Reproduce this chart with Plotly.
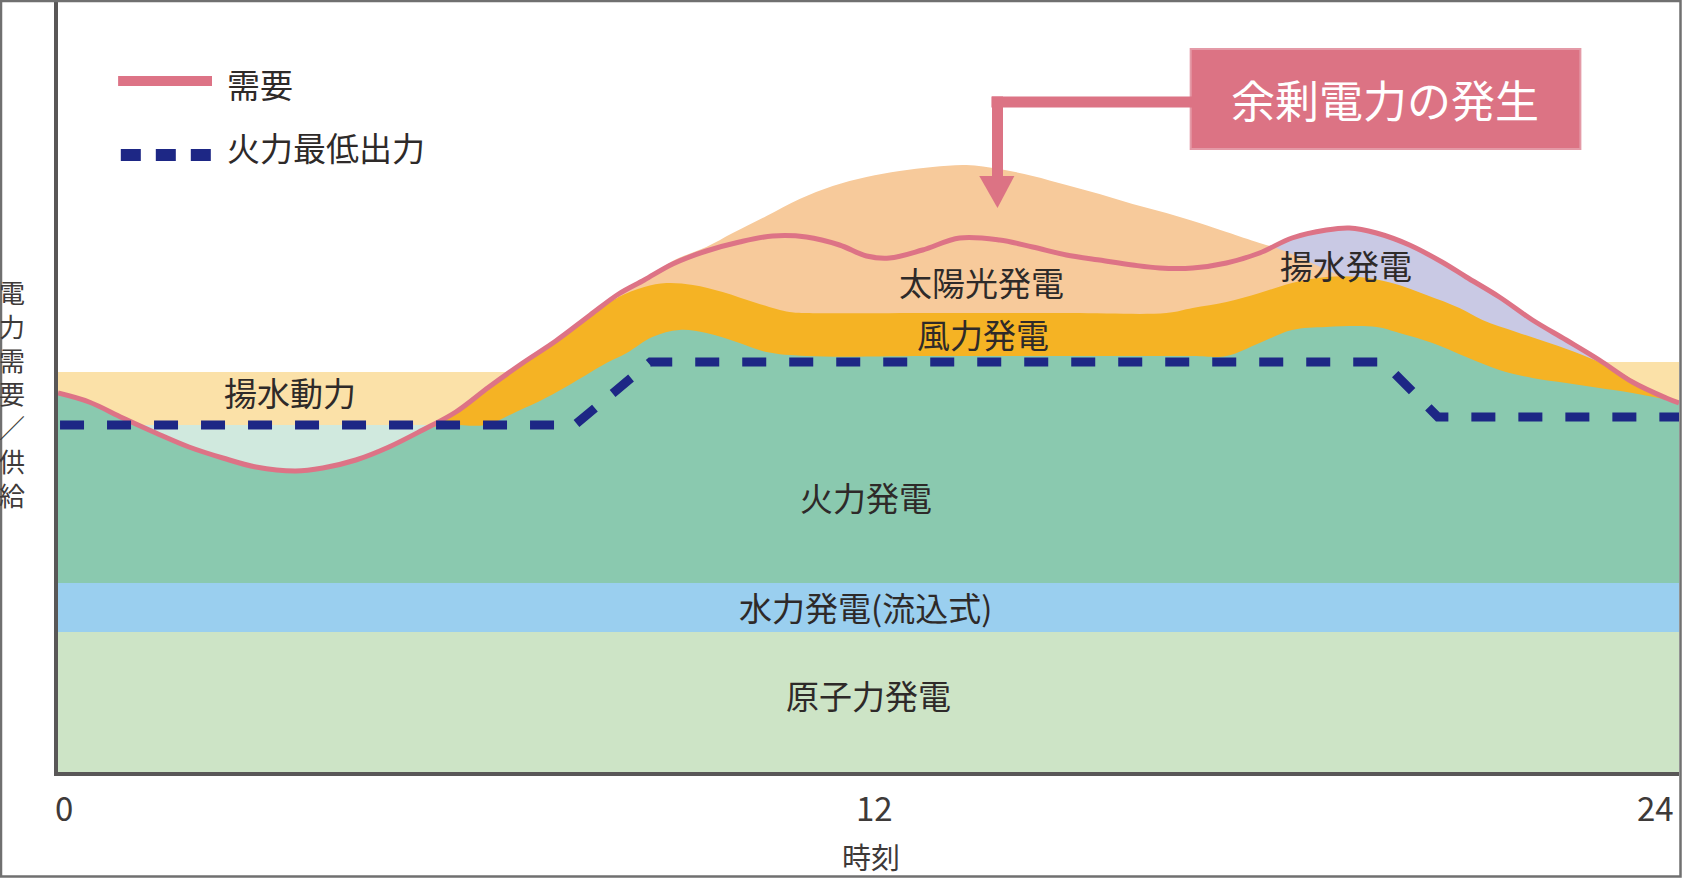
import plotly.graph_objects as go

# ---------------- data (x: hour of day, y: power, arbitrary units) ----------------
hours_demand = [0, 0.46, 0.96, 1.45, 1.94, 2.44, 2.93, 3.52, 3.92, 4.41, 4.90, 5.40, 5.89, 6.38,
                6.88, 7.37, 7.88, 8.30, 8.68, 9.10, 9.60, 10.09, 10.58, 11.08, 11.57, 11.97, 12.31,
                12.80, 13.35, 13.94, 14.43, 14.93, 15.42, 15.91, 16.31, 16.80, 17.30, 17.79, 18.27,
                18.78, 19.12, 19.52, 20.01, 20.49, 20.85, 21.34, 21.83, 22.33, 22.82, 23.31, 23.81, 24]
demand = [379, 370, 354, 339, 325, 314, 305, 301, 304, 312, 325, 342, 360, 385,
          409, 431, 457, 478, 492, 508, 521, 530, 536, 535, 527, 516, 514,
          522, 534, 532, 525, 517, 512, 507, 504, 504, 509, 519, 534,
          542, 544, 539, 527, 510, 495, 475, 452, 432, 412, 390, 374, 369]

hours_thermal = [0, 0.46, 0.96, 1.45, 1.94, 2.44, 2.93, 3.52, 3.92, 4.41, 4.90, 5.40, 5.75, 6.33,
                 6.78, 7.22, 7.62, 8.12, 8.42, 8.80, 9.20, 9.60, 10.09, 10.49, 11.08, 13.0, 15.0,
                 16.8, 17.30, 17.79, 18.27, 18.78, 19.52, 19.86, 20.35, 20.85, 21.34, 21.83, 22.33,
                 22.82, 23.31, 24]
thermal_top = [379, 370, 354, 339, 325, 314, 305, 301, 304, 312, 325, 342, 347, 347,
               360, 374, 389, 409, 419, 435, 442, 439, 429, 420, 416, 416, 416,
               416, 416, 429, 442, 445, 445, 439, 429, 415, 402, 394, 389,
               384, 379, 370]

hours_wind = [5.50, 5.89, 6.38, 6.88, 7.37, 7.88, 8.30, 8.68, 9.01, 9.40, 9.84, 10.34, 10.83, 11.08,
              13.0, 15.0, 16.41, 16.80, 17.30, 17.79, 18.27, 18.78, 19.27, 19.75, 20.26, 20.75,
              21.09, 21.59, 22.08, 22.57, 23.07, 23.56, 24]
wind_top = [345, 360, 385, 409, 431, 456, 475, 485, 489, 487, 480, 469, 460, 459,
            459, 459, 459, 464, 470, 479, 489, 495, 495, 489, 477, 464,
            452, 440, 429, 417, 402, 382, 369]

hours_solar = [8.30, 8.68, 9.10, 9.60, 9.99, 10.49, 10.98, 11.47, 11.97, 12.46, 12.95, 13.45, 13.94,
               14.43, 14.93, 15.42, 15.91, 16.41, 16.90, 17.30, 17.79, 18.08, 18.53, 19.04]
solar_top = [478, 492, 511, 525, 539, 556, 573, 586, 595, 601, 605, 607, 603,
             596, 587, 578, 568, 559, 549, 540, 529, 523, 510, 494]

hours_thermal_min = [0.03, 7.65, 8.77, 19.62, 20.43, 24]
thermal_min = [347, 347, 410, 410, 355, 355]

hydro_top = 189
nuclear_top = 140

pump_left_hours = [0, 6.68]
pump_left_level = 400
pump_right_hours = [22.80, 24]
pump_right_level = 410
surplus_hours = [1.0, 5.7]
pumped_gen_start = 17.79

area_labels = ["揚水動力", "太陽光発電", "風力発電", "揚水発電", "火力発電", "水力発電(流込式)", "原子力発電"]
label_hours = [3.43, 13.67, 13.69, 19.07, 11.97, 11.96, 12.0]
label_values = [380, 490, 438, 507, 275, 165, 77]

tick_values = [0, 12, 24]
tick_labels = ["0", "12", "24"]
x_title = "時刻"
y_title = "電力需要／供給"
legend_names = ["需要", "火力最低出力"]
callout_text = "余剰電力の発生"

# ---------------- styles ----------------
C_NUC = "#cde4c6"
C_HYD = "#9acfef"
C_THE = "#8ac9af"
C_MINT = "#d0e9de"
C_WIND = "#f5b324"
C_SOLAR = "#f7ca9b"
C_PUMP = "#fbe1a8"
C_LAV = "#c9c9e4"
C_DEM = "#dd7386"
C_NAVY = "#1d2785"
C_TXT = "#2e2a29"
FONT = "Noto Sans CJK JP"

L, R, T, B = 58, 3, 0, 106
FW, FH = 1682, 878
W = FW - L - R
H = FH - T - B


def px_x(px):
    return (px - L) / W


def px_y(py):
    return (FH - B - py) / H


fig = go.Figure()


def area(x, y, color, shape="spline"):
    fig.add_trace(go.Scatter(x=x, y=y, mode="lines", fill="tozeroy", fillcolor=color,
                             line=dict(width=0, color=color, shape=shape),
                             hoverinfo="skip", showlegend=False))


area(pump_left_hours, [pump_left_level] * 2, C_PUMP, "linear")
area(pump_right_hours, [pump_right_level] * 2, C_PUMP, "linear")
area(surplus_hours, [thermal_min[0]] * 2, C_MINT, "linear")
lav_x = [h for h in hours_demand if h >= pumped_gen_start]
lav_y = [v for h, v in zip(hours_demand, demand) if h >= pumped_gen_start]
area(lav_x, lav_y, C_LAV)
area(hours_solar, solar_top, C_SOLAR)
area(hours_wind, wind_top, C_WIND)
area(hours_thermal, thermal_top, C_THE)
area([0, 24], [hydro_top] * 2, C_HYD, "linear")
area([0, 24], [nuclear_top] * 2, C_NUC, "linear")

fig.add_trace(go.Scatter(x=hours_demand, y=demand, mode="lines",
                         line=dict(color=C_DEM, width=5, shape="spline"),
                         name=legend_names[0], showlegend=False))
fig.add_trace(go.Scatter(x=hours_thermal_min, y=thermal_min, mode="lines",
                         line=dict(color=C_NAVY, width=9, dash="24px,23px"),
                         name=legend_names[1], showlegend=False))

annotations = []
for txt, hx, vy in zip(area_labels, label_hours, label_values):
    annotations.append(dict(x=hx, y=vy, xref="x", yref="y", text=txt, showarrow=False,
                            xanchor="center", yanchor="middle",
                            font=dict(family=FONT, size=33, color=C_TXT)))

# legend (manual)
shapes = [
    dict(type="line", xref="x", yref="y", x0=0.89, x1=2.28, y0=691, y1=691,
         line=dict(color=C_DEM, width=10)),
    dict(type="line", xref="x", yref="y", x0=0.93, x1=2.30, y0=617, y1=617,
         line=dict(color=C_NAVY, width=12, dash="20px,15px")),
]
annotations.append(dict(x=2.47, y=688, xref="x", yref="y", text=legend_names[0], xanchor="left",
                        yanchor="middle", showarrow=False,
                        font=dict(family=FONT, size=33, color=C_TXT)))
annotations.append(dict(x=2.47, y=625, xref="x", yref="y", text=legend_names[1], xanchor="left",
                        yanchor="middle", showarrow=False,
                        font=dict(family=FONT, size=33, color=C_TXT)))

# callout box + arrow
shapes += [
    dict(type="rect", xref="x", yref="y", x0=16.77, x1=22.54, y0=623, y1=723,
         fillcolor="#dc7384", line=dict(color="#e49aa7", width=2)),
    dict(type="line", xref="x", yref="y", x0=13.82, x1=16.80, y0=670, y1=670,
         line=dict(color="#dc7384", width=11)),
    dict(type="line", xref="x", yref="y", x0=13.91, x1=13.91, y0=675.5, y1=594,
         line=dict(color="#dc7384", width=11)),
    dict(type="path", xref="x", yref="y", path="M 13.64,596 L 14.16,596 L 13.91,564 Z",
         fillcolor="#dc7384", line=dict(width=0)),
]
annotations.append(dict(x=19.65, y=673, xref="x", yref="y", text=callout_text, showarrow=False,
                        xanchor="center", yanchor="middle",
                        font=dict(family=FONT, size=44, color="white")))

# tick labels
for tv, tl, sh in zip(tick_values, tick_labels, [6, 6, -24]):
    annotations.append(dict(x=tv, y=px_y(807), xref="x", yref="paper", text=tl, showarrow=False,
                            xanchor="center", yanchor="middle", xshift=sh,
                            font=dict(family=FONT, size=33, color="#3e3a39")))
# x title
annotations.append(dict(x=px_x(871), y=px_y(856), xref="paper", yref="paper", text=x_title,
                        xanchor="center", yanchor="middle", showarrow=False,
                        font=dict(family=FONT, size=29, color="#3e3a39")))
# vertical y title (upright characters stacked)
annotations.append(dict(x=px_x(12), y=px_y(393), xref="paper", yref="paper",
                        text="<br>".join(list(y_title)), showarrow=False,
                        xanchor="center", yanchor="middle", align="center",
                        font=dict(family=FONT, size=26, color="#3e3a39")))

# outer frame
shapes.append(dict(type="rect", xref="paper", yref="paper", x0=px_x(1), x1=px_x(1680.5),
                   y0=px_y(876.5), y1=px_y(1), line=dict(color="#707070", width=2.5),
                   fillcolor="rgba(0,0,0,0)", layer="above"))

fig.update_layout(
    width=FW, height=FH,
    margin=dict(l=L, r=R, t=T, b=B, pad=0),
    paper_bgcolor="white", plot_bgcolor="white",
    showlegend=False,
    xaxis=dict(range=[0, 24], showgrid=False, zeroline=False, showticklabels=False, ticks="",
               showline=True, linecolor="#595757", linewidth=4, fixedrange=True),
    yaxis=dict(range=[0, H], showgrid=False, zeroline=False, showticklabels=False, ticks="",
               showline=True, linecolor="#595757", linewidth=4, fixedrange=True),
    annotations=annotations,
    shapes=shapes,
)

fig.write_html("out.html", config={"displayModeBar": False},
               post_script="document.body.style.margin='0';document.body.style.overflow='hidden';")
